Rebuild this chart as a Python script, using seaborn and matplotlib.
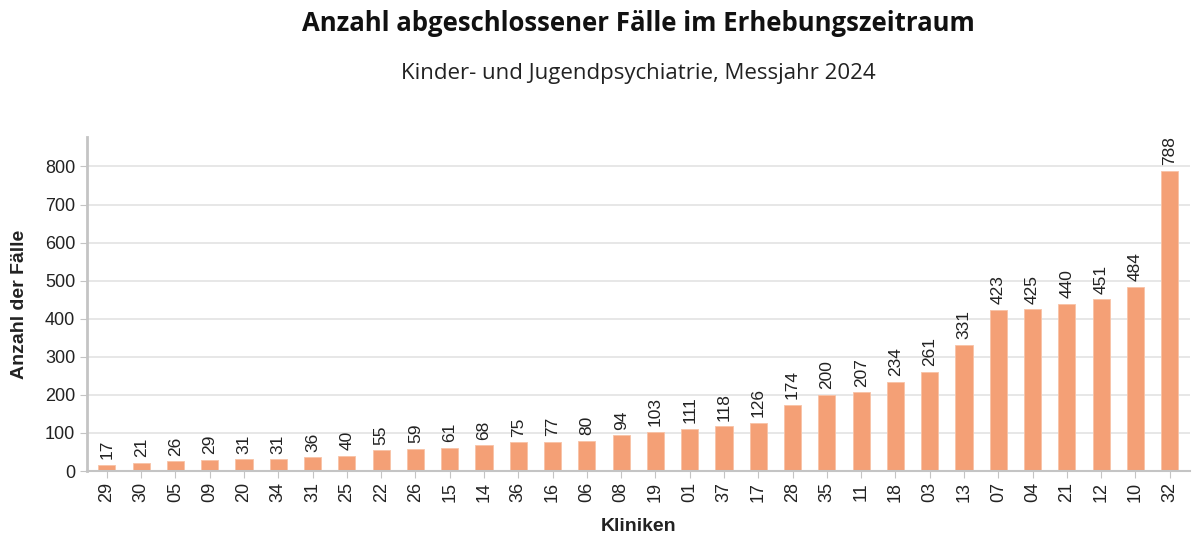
import pandas as pd
import seaborn as sns
import matplotlib.pyplot as plt

sns.set_style("white")
plt.rcParams['font.family'] = ['Liberation Sans', 'DejaVu Sans']

# Kliniken, sortiert nach Anzahl Fälle
kliniken = ["29", "30", "05", "09", "20", "34", "31", "25", "22", "26", "15", "14",
            "36", "16", "06", "08", "19", "01", "37", "17", "28", "35", "11", "18",
            "03", "13", "07", "04", "21", "12", "10", "32"]
faelle = [17, 21, 26, 29, 31, 31, 36, 40, 55, 59, 61, 68, 75, 77, 80, 94, 103,
          111, 118, 126, 174, 200, 207, 234, 261, 331, 423, 425, 440, 451, 484, 788]
yticks = [0, 100, 200, 300, 400, 500, 600, 700, 800]

df = pd.DataFrame({"klinik": kliniken, "faelle": faelle})

fig = plt.figure(figsize=(11.92, 5.35), dpi=100)
ax = fig.add_axes([0.073, 0.1196, 0.925, 0.624])

sns.barplot(data=df, x="klinik", y="faelle", order=kliniken, color="#F4A076",
            width=0.5, edgecolor="#F8C2A6", linewidth=0.6, saturation=1, ax=ax)

for c in ax.containers:
    ax.bar_label(c, rotation=90, padding=4, fontsize=12.5, color="#222222")

ax.set_ylim(0, 877)
ax.set_xlim(-0.58, 31.58)
ax.set_yticks(yticks)
ax.yaxis.grid(True, color="#e3e3e3", linewidth=1.2)
ax.set_axisbelow(True)

for s in ["top", "right"]:
    ax.spines[s].set_visible(False)
ax.spines["left"].set_color("#c4c4c4")
ax.spines["left"].set_linewidth(2)
ax.spines["bottom"].set_color("#c4c4c4")
ax.spines["bottom"].set_linewidth(1.5)

ax.tick_params(axis="x", rotation=90, labelsize=13, length=5, color="#c4c4c4",
               bottom=True, pad=3, labelcolor="#222222")
ax.tick_params(axis="y", labelsize=13, length=5, color="#c4c4c4", left=True,
               labelcolor="#222222")

ax.set_xlabel("Kliniken", fontsize=14, fontweight="bold", labelpad=11, color="#222222")
ax.set_ylabel("Anzahl der Fälle", fontsize=14, fontweight="bold", labelpad=12, color="#222222")

# Titel über der Achsenmitte zentriert
xc = 0.073 + 0.925 / 2
fig.text(xc, 0.957, "Anzahl abgeschlossener Fälle im Erhebungszeitraum",
         ha="center", va="center", fontsize=18.5, fontweight="bold", family="Open Sans",
         color="#111111")
fig.text(xc, 0.863, "Kinder- und Jugendpsychiatrie, Messjahr 2024",
         ha="center", va="center", fontsize=16, family="Open Sans", color="#222222")

fig.savefig("out.png", dpi=100)
